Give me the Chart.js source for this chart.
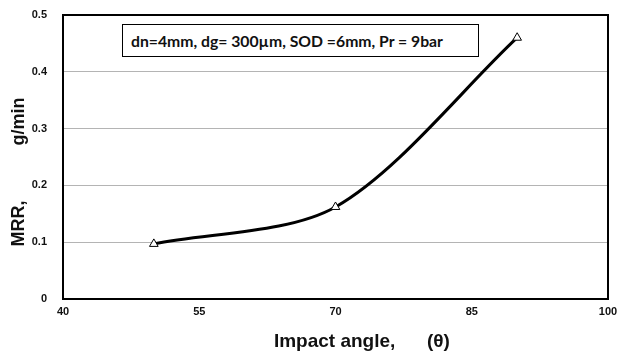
<!DOCTYPE html>
<html><head><meta charset="utf-8">
<script src="https://cdn.jsdelivr.net/npm/chart.js@4/dist/chart.umd.min.js"></script>
<style>
html,body{margin:0;padding:0;background:#fff;}
#wrap{position:relative;width:623px;height:355px;}
#note{position:absolute;left:122px;top:24px;width:355px;height:31px;border:1.5px solid #000;background:#fff;
 font:bold 15.75px Lato,"Open Sans",sans-serif;line-height:31px;text-align:left;padding-left:0;color:#111;white-space:nowrap;overflow:hidden;}
#note span{display:inline-block;margin-left:8px;}
</style></head>
<body><div id="wrap"><canvas id="c" width="623" height="355"></canvas>
<div id="note"><span id="nt">dn=4mm, dg= 300µm, SOD =6mm, Pr = 9bar</span></div></div>
<script>
const angles = [50, 70, 90];
const mrr = [0.097, 0.162, 0.46];
const xTicks = [40, 55, 70, 85, 100];
const yTicks = [0, 0.1, 0.2, 0.3, 0.4, 0.5];
const sp = n => '\u00a0'.repeat(n);
const xTitle = sp(10) + 'Impact angle,' + sp(6) + '(θ)';
const yTitle = 'MRR,' + sp(11) + 'g/min' + sp(6);
const tickFont = {family:'"Liberation Sans Narrow","Arial Narrow","Liberation Sans",Arial', size:11, weight:'bold'};
const border = {id:'border', afterDraw(ch){const a=ch.chartArea,c=ch.ctx;c.save();c.strokeStyle='#000';c.lineWidth=2;c.strokeRect(a.left,a.top,a.right-a.left,a.bottom-a.top);c.restore();}};
new Chart(document.getElementById('c'), {
  type:'scatter',
  data:{datasets:[{data:angles.map((x,i)=>({x:x,y:mrr[i]})), showLine:true, tension:0.3,
    borderColor:'#000', borderWidth:3, pointStyle:'triangle', pointRadius:5, pointBorderWidth:1,
    pointBackgroundColor:'#fff', pointBorderColor:'#000'}]},
  options:{responsive:false, animation:false,
    layout:{padding:{left:0,right:15,top:15,bottom:0}},
    plugins:{legend:{display:false}, tooltip:{enabled:false}},
    scales:{
      x:{type:'linear', min:40, max:100, afterBuildTicks(s){s.ticks=xTicks.map(v=>({value:v}));},
        afterFit(s){s.height=56; s.paddingLeft=0; s.paddingRight=0;},
        grid:{display:false, drawTicks:false}, border:{color:'#000',width:2},
        ticks:{font:tickFont, color:'#111', padding:6, maxRotation:0},
        title:{display:true, text:xTitle, font:{family:'"Liberation Sans",Arial', size:19, weight:'bold'}, color:'#111', padding:{top:4,bottom:2}}},
      y:{min:0, max:0.5, afterBuildTicks(s){s.ticks=yTicks.map(v=>({value:v}));},
        afterFit(s){s.width=63; s.paddingTop=0; s.paddingBottom=0;},
        grid:{color:'#b4b4b4', lineWidth:1, drawTicks:false}, border:{color:'#000',width:2},
        ticks:{font:tickFont, color:'#111', padding:16, callback:v=>String(v)},
        title:{display:true, text:yTitle, font:{family:'"Liberation Sans",Arial', size:18, weight:'bold'}, color:'#111', padding:{top:8,bottom:0}}}
    }},
  plugins:[border]
});
</script></body></html>
